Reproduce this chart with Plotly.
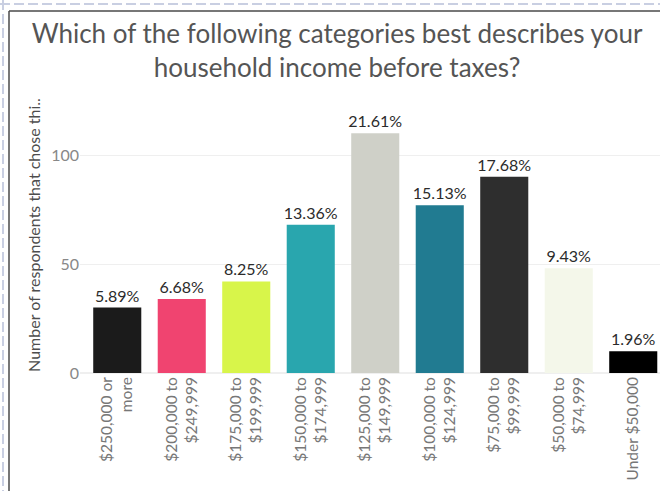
import plotly.graph_objects as go

# Survey answers: household income before taxes
categories = [
    "$250,000 or<br>more",
    "$200,000 to<br>$249,999",
    "$175,000 to<br>$199,999",
    "$150,000 to<br>$174,999",
    "$125,000 to<br>$149,999",
    "$100,000 to<br>$124,999",
    "$75,000 to<br>$99,999",
    "$50,000 to<br>$74,999",
    "Under $50,000",
]
respondents = [30, 34, 42, 68, 110, 77, 90, 48, 10]
bar_colors = [
    "#1b1b1b", "#f04470", "#d8f54a", "#29a6ae", "#cfd0c8",
    "#217b91", "#2e2e2e", "#f4f7ea", "#000000",
]
y_ticks = [0, 50, 100]

total = sum(respondents)
pct_labels = [f"{v / total * 100:.2f}%" for v in respondents]

W, H = 660, 491
ML, MR, MT, MB = 80, 0, 97, 118
plot_w = W - ML - MR
plot_h = H - MT - MB
pitch = 64.5  # pixels per category


def px_x(px):
    return (px - ML) / plot_w


def px_y(py):
    return (H - MB - py) / plot_h


fig = go.Figure(
    go.Bar(
        x=list(range(len(categories))),
        y=respondents,
        marker=dict(color=bar_colors, line=dict(width=0)),
        text=pct_labels,
        textposition="outside",
        constraintext="none",
        textfont=dict(family="Lato", size=16, color="#2b2b2b"),
        cliponaxis=False,
        width=0.745,
    )
)

x0 = -0.5 - 5 / pitch
fig.update_xaxes(
    range=[x0, x0 + plot_w / pitch],
    tickmode="array",
    tickvals=list(range(len(categories))),
    ticktext=categories,
    tickangle=-90,
    tickfont=dict(family="Lato", size=15.5, color="#777777"),
    showgrid=False,
    zeroline=False,
    showline=False,
    ticks="",
)
fig.update_yaxes(
    range=[0, plot_h / 2.18],
    tickvals=y_ticks,
    tickfont=dict(family="Lato", size=16, color="#888888"),
    showgrid=True,
    gridcolor="#efefef",
    gridwidth=1,
    zeroline=True,
    zerolinecolor="#efefef",
    showline=False,
    ticks="",
    title=dict(
        text="Number of respondents that chose thi..",
        font=dict(family="Lato", size=16, color="#4d4d4d"),
        standoff=6,
    ),
)

# Page frame around the chart
shapes = [
    dict(type="line", xref="paper", yref="paper",
         x0=px_x(0), x1=px_x(W), y0=px_y(4), y1=px_y(4),
         line=dict(color="#c9cfe2", width=2, dash="10px,4px")),
    dict(type="line", xref="paper", yref="paper",
         x0=px_x(3), x1=px_x(3), y0=px_y(0), y1=px_y(H),
         line=dict(color="#c9cfe2", width=2, dash="10px,4px")),
    dict(type="line", xref="paper", yref="paper",
         x0=px_x(9), x1=px_x(W), y0=px_y(11), y1=px_y(11),
         line=dict(color="#4a4a4a", width=1.5)),
    dict(type="line", xref="paper", yref="paper",
         x0=px_x(9), x1=px_x(9), y0=px_y(11), y1=px_y(H),
         line=dict(color="#4a4a4a", width=1.5)),
]

fig.update_layout(
    width=W,
    height=H,
    margin=dict(l=ML, r=MR, t=MT, b=MB),
    paper_bgcolor="white",
    plot_bgcolor="white",
    showlegend=False,
    bargap=0.25,
    shapes=shapes,
    title=dict(
        text="Which of the following categories best describes your<br>household income before taxes?",
        x=337 / W,
        xanchor="center",
        y=1 - 43 / H,
        yanchor="top",
        font=dict(family="Lato", size=26, color="#555555"),
    ),
)

fig.write_html("out.html")
